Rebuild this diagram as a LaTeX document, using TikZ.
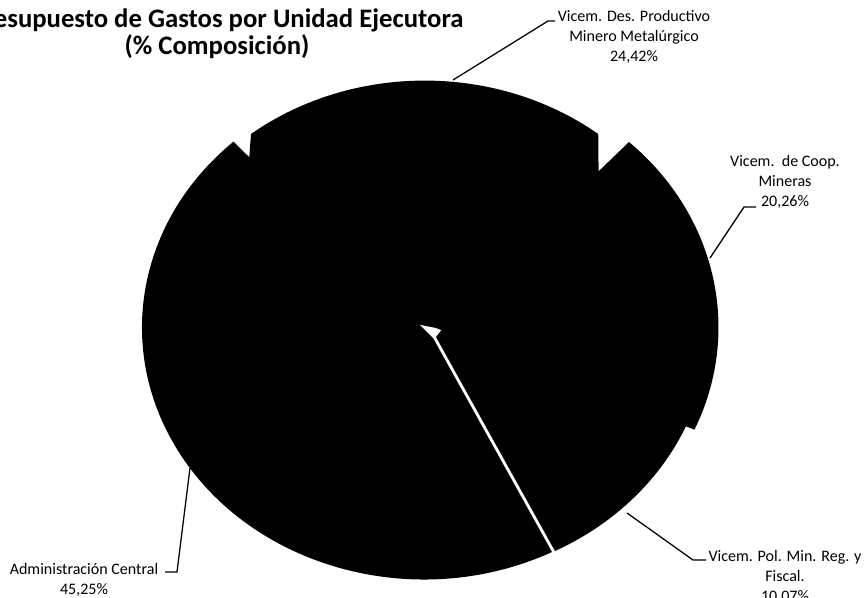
\documentclass[tikz,border=0pt]{standalone}
\usepackage{fontspec}
\setmainfont{Carlito}
\usetikzlibrary{positioning}

\begin{document}
\begin{tikzpicture}[x=0.025cm, y=-0.025cm,
	slice/.style={fill=black},
	lbl/.style={align=center, inner sep=0pt, font=\fontsize{11.4}{13.9}\selectfont},
	leader/.style={line width=0.9pt}]
	\useasboundingbox (0,0) rectangle (864,598);

	\node[align=center, inner sep=0pt, font=\bfseries\fontsize{19}{19.5}\selectfont] (title) at (217,34)
		{Presupuesto de Gastos por Unidad Ejecutora\\(\% Composición)};

	% apexes of the slices
	\coordinate (cMid) at (436,328);
	\coordinate (cAdm) at (433,338);
	\coordinate (cPol) at (436,337);

	% Administracion Central
	\fill[slice] (cAdm) -- (552,552) arc[start angle=63, end angle=227.5, x radius=282, y radius=252] -- cycle;
	% Vicem. Des. Productivo
	\fill[slice] (cMid) -- (300,300) -- (246,200) -- (251,134) arc[start angle=232, end angle=308, x radius=282, y radius=252]
		-- (599,215) -- cycle;
	% Vicem. de Coop.
	\fill[slice] (cMid) -- (629,142) arc[start angle=-47.3, end angle=24, x radius=278, y radius=252] -- cycle;
	% Vicem. Pol. Min.
	\fill[slice] (cPol) -- (555,551) arc[start angle=63, end angle=22, x radius=282, y radius=252]
		-- (448,322) -- cycle;

	% labels
	\node[lbl] (lProd) at (634,37)  {Vicem. Des. Productivo\\Minero Metalúrgico\\24,42\%};
	\node[lbl] (lCoop) at (785,182) {Vicem.\ \ de Coop.\\Mineras\\20,26\%};
	\node[lbl] (lPol)  at (785,577) {Vicem. Pol. Min. Reg. y\\Fiscal.\\10,07\%};
	\node[lbl] (lAdm)  at (84,580)  {Administración Central\\45,25\%};

	% leader lines
	\coordinate (rProd) at (453,80);  \coordinate (bProd) at (548,21);  \coordinate (eProd) at (555,21);
	\coordinate (rCoop) at (710,258); \coordinate (bCoop) at (744,207); \coordinate (eCoop) at (756,207);
	\coordinate (rPol)  at (627,513); \coordinate (bPol)  at (693,560); \coordinate (ePol)  at (706,560);
	\coordinate (rAdm)  at (190,468); \coordinate (bAdm)  at (177,572); \coordinate (eAdm)  at (165,572);

	\draw[leader] (rProd) -- (bProd) -- (eProd);
	\draw[leader] (rCoop) -- (bCoop) -- (eCoop);
	\draw[leader] (rPol)  -- (bPol)  -- (ePol);
	\draw[leader] (rAdm)  -- (bAdm)  -- (eAdm);
\end{tikzpicture}
\end{document}
